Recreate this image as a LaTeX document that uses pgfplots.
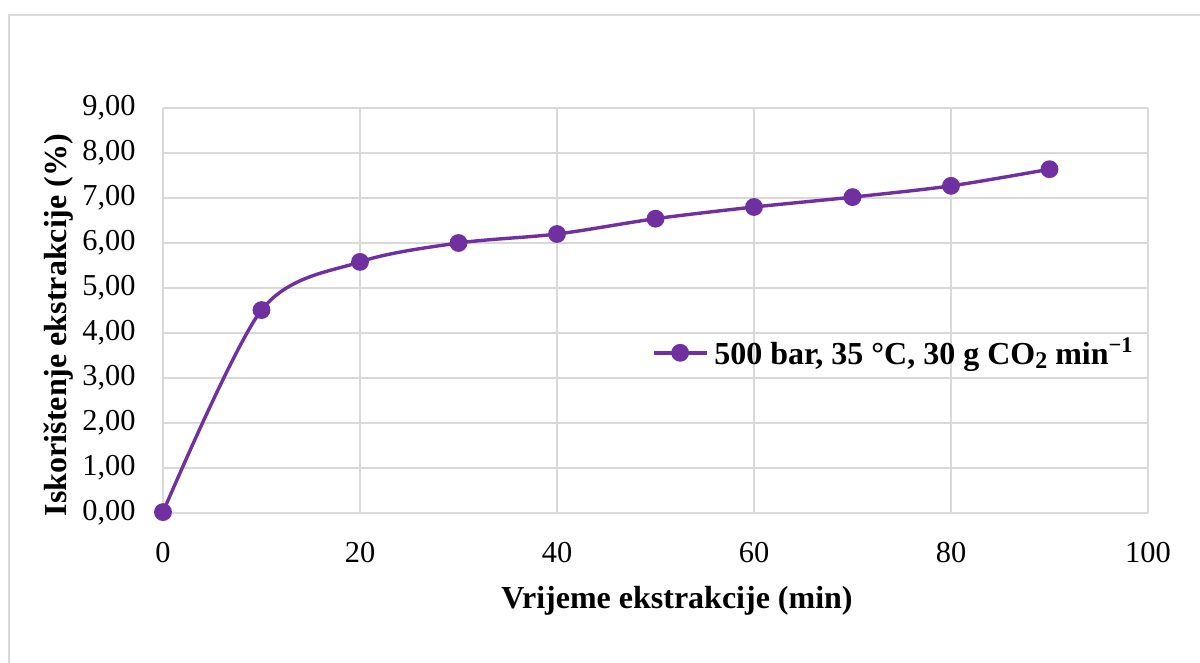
\documentclass[border=0pt]{standalone}
\usepackage{pgfplots}
\pgfplotsset{compat=1.18}
\usepackage{fontspec}
\setmainfont{Liberation Serif}
\definecolor{gridgray}{RGB}{217,217,217}
\definecolor{lineviolet}{RGB}{112,48,160}
\begin{document}
\begin{tikzpicture}[x=0.5pt,y=-0.5pt]
\path[use as bounding box, fill=white] (0,0) rectangle (1200,663);
\draw[gridgray, line width=0.8pt] (9,700) -- (9,15) -- (1220,15);
\begin{axis}[
  at={(81.5pt,-256.5pt)}, anchor=south west,
  scale only axis, width=492.5pt, height=202.5pt,
  xmin=0, xmax=100, ymin=0, ymax=9,
  xtick={0,20,...,100}, ytick={0,1,...,9},
  grid=major, major grid style={gridgray, line width=0.8pt},
  axis line style={draw=none},
  major tick length=0pt,
  clip=false,
  /pgf/number format/assume math mode=true,
  tick label style={font=\fontsize{15.2}{18}\selectfont},
  yticklabel style={inner sep=0pt, anchor=east, xshift=-13.5pt,
    /pgf/number format/.cd, fixed, fixed zerofill, precision=2, use comma},
  xticklabel style={inner sep=0pt, anchor=north, yshift=-14.5pt},
  legend style={draw=none, fill=none, inner sep=0pt, outer sep=0pt,
    at={(axis cs:49.64,3.56)}, anchor=west,
    font=\bfseries\fontsize{16}{19}\selectfont,
    nodes={inner xsep=0pt},
    /tikz/every odd column/.append style={column sep=3pt}},
  legend image code/.code={\draw[mark repeat=2,mark phase=2,#1] plot coordinates {(0pt,0pt) (13.25pt,0pt) (26.5pt,0pt)};},
]
\addplot[lineviolet, line width=1.7pt, smooth, mark=*, mark size=3.6pt,
  mark options={fill=lineviolet, draw=lineviolet}]
  coordinates {(0,0.02) (10,4.51) (20,5.58) (30,6.00) (40,6.20) (50,6.54) (60,6.80) (70,7.02) (80,7.27) (90,7.64)};
\addlegendentry{500 bar, 35 °C, 30 g CO\raisebox{-0.25ex}{\fontsize{12}{14}\selectfont 2} min\textsuperscript{−1}}
\end{axis}
\node[rotate=90, font=\bfseries\fontsize{16}{19}\selectfont] at (59,325) {Iskorištenje ekstrakcije (\%)};
\node[font=\bfseries\fontsize{16}{19}\selectfont] at (677,601) {Vrijeme ekstrakcije (min)};
\end{tikzpicture}
\end{document}
